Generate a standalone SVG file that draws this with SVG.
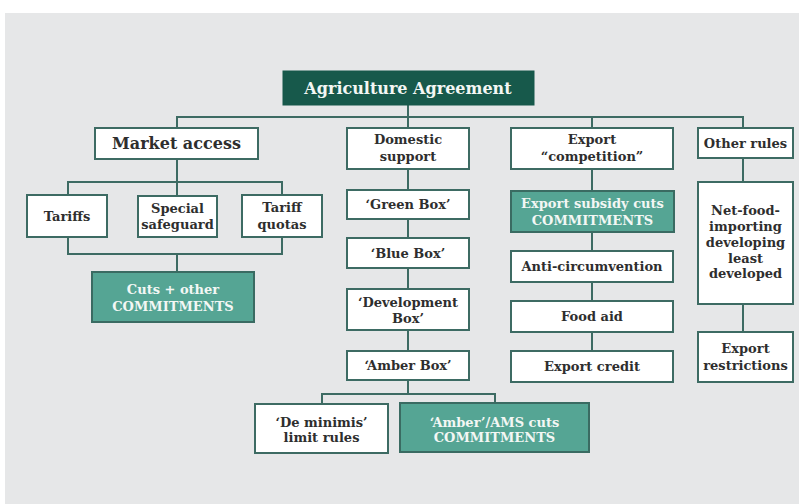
<svg xmlns="http://www.w3.org/2000/svg" width="799" height="504" viewBox="0 0 799 504">
<style>
.bx{fill:#ffffff;stroke:#3d6b63;stroke-width:2}
.tl{fill:#55a594;stroke:#3a6b62;stroke-width:2}
.hd{fill:#17594b;stroke:#17594b;stroke-width:1}
.t{font-family:"DejaVu Serif",serif;font-weight:bold;font-size:13px;fill:#2e2e2e;text-anchor:middle;dominant-baseline:central}
.tw{fill:#f3f7f4}
.big{font-size:16px}
.ttl{font-size:16px;fill:#f3f7f4}
#connectors path{fill:none;stroke:#3d6b63;stroke-width:2}
</style>
<rect x="0" y="0" width="799" height="504" fill="#ffffff"/>
<rect x="5" y="13" width="794" height="491" fill="#e6e7e8"/>
<g id="connectors">
<path d="M408 105V128M177 128V117H743V128M592 117V128"/>
<path d="M177 159V182M68 195V182H282V195M177 182V196"/>
<path d="M68 237V254H282V237M177 254V272"/>
<path d="M408 169V190M408 219V238M408 268V289M408 330V351M408 380V394M322 404V394H495V403"/>
<path d="M592 169V191M592 232V251M592 282V301M592 332V351"/>
<path d="M743 158V182M743 304V332"/>
</g>
<g id="agriculture-agreement"><rect class="hd" x="283" y="71" width="251" height="34"/><text class="t ttl" x="408" y="88">Agriculture Agreement</text></g>
<g id="market-access"><rect class="bx" x="95" y="128" width="163" height="31"/><text class="t big" x="176.5" y="143.5">Market access</text></g>
<g id="domestic-support"><rect class="bx" x="347" y="128" width="122" height="41"/><text class="t" x="408" y="139">Domestic</text><text class="t" x="408" y="156">support</text></g>
<g id="export-competition"><rect class="bx" x="511" y="128" width="162" height="41"/><text class="t" x="592" y="139">Export</text><text class="t" x="592" y="156">“competition”</text></g>
<g id="other-rules"><rect class="bx" x="698" y="128" width="95" height="30"/><text class="t" x="745.5" y="143">Other rules</text></g>
<g id="tariffs"><rect class="bx" x="27" y="195" width="80" height="42"/><text class="t" x="67" y="216">Tariffs</text></g>
<g id="special-safeguard"><rect class="bx" x="138" y="196" width="79" height="41"/><text class="t" x="177.5" y="208">Special</text><text class="t" x="177.5" y="224">safeguard</text></g>
<g id="tariff-quotas"><rect class="bx" x="242" y="195" width="80" height="42"/><text class="t" x="282" y="207">Tariff</text><text class="t" x="282" y="224">quotas</text></g>
<g id="cuts-other"><rect class="tl" x="92" y="272" width="162" height="50"/><text class="t tw" x="173" y="289">Cuts + other</text><text class="t tw" x="173" y="306">COMMITMENTS</text></g>
<g id="green-box"><rect class="bx" x="347" y="190" width="122" height="29"/><text class="t" x="408" y="204.5">‘Green Box’</text></g>
<g id="blue-box"><rect class="bx" x="347" y="238" width="122" height="30"/><text class="t" x="408" y="253">‘Blue Box’</text></g>
<g id="development-box"><rect class="bx" x="347" y="289" width="122" height="41"/><text class="t" x="408" y="302">‘Development</text><text class="t" x="408" y="318">Box’</text></g>
<g id="amber-box"><rect class="bx" x="347" y="351" width="122" height="29"/><text class="t" x="408" y="365.5">‘Amber Box’</text></g>
<g id="de-minimis"><rect class="bx" x="255" y="404" width="133" height="49"/><text class="t" x="321.5" y="422">‘De minimis’</text><text class="t" x="321.5" y="437">limit rules</text></g>
<g id="amber-ams"><rect class="tl" x="400" y="403" width="189" height="49"/><text class="t tw" x="494.5" y="422">‘Amber’/AMS cuts</text><text class="t tw" x="494.5" y="437">COMMITMENTS</text></g>
<g id="export-subsidy"><rect class="tl" x="511" y="191" width="163" height="41"/><text class="t tw" x="592.5" y="203">Export subsidy cuts</text><text class="t tw" x="592.5" y="220">COMMITMENTS</text></g>
<g id="anti-circumvention"><rect class="bx" x="511" y="251" width="162" height="31"/><text class="t" x="592" y="266.5">Anti-circumvention</text></g>
<g id="food-aid"><rect class="bx" x="511" y="301" width="162" height="31"/><text class="t" x="592" y="316.5">Food aid</text></g>
<g id="export-credit"><rect class="bx" x="511" y="351" width="162" height="31"/><text class="t" x="592" y="366.5">Export credit</text></g>
<g id="net-food"><rect class="bx" x="698" y="182" width="95" height="122"/><text class="t" x="745.5" y="210">Net-food-</text><text class="t" x="745.5" y="226">importing</text><text class="t" x="745.5" y="242">developing</text><text class="t" x="745.5" y="258">least</text><text class="t" x="745.5" y="273">developed</text></g>
<g id="export-restrictions"><rect class="bx" x="698" y="332" width="95" height="50"/><text class="t" x="745.5" y="348">Export</text><text class="t" x="745.5" y="365">restrictions</text></g>
</svg>
